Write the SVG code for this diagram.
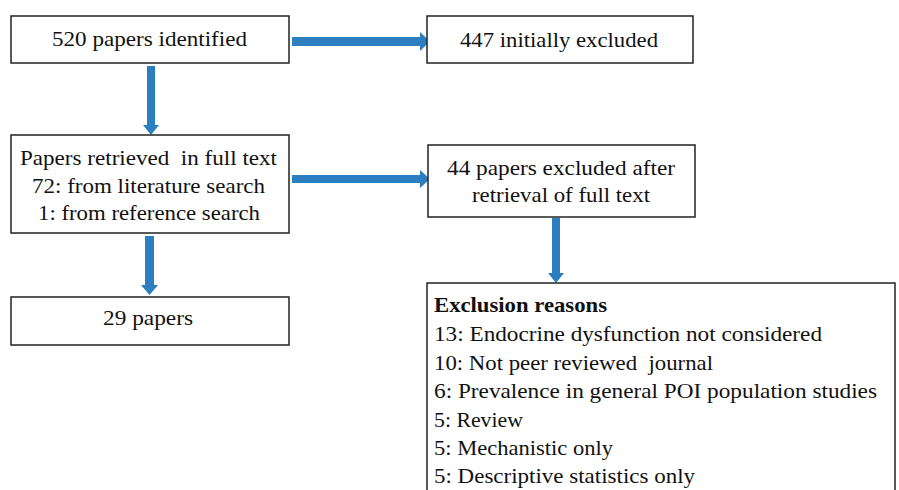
<svg xmlns="http://www.w3.org/2000/svg" width="899" height="490" viewBox="0 0 899 490">
<defs>
<style>
.box{fill:#fff;stroke:#222;stroke-width:1.5}
.t{font-family:"Liberation Serif","DejaVu Serif",serif;font-size:21px;fill:#111;white-space:pre}
.b{font-weight:bold}
.arr{fill:#2b7fc1}
</style>
</defs>
<rect width="899" height="490" fill="#fff"/>
<g id="connectors">
<polygon class="arr" points="292,37 420,37 420,32 430,41.5 420,51 420,46 292,46"/>
<polygon class="arr" points="147,66 155,66 155,125 159,125 151,135 143,125 147,125"/>
<polygon class="arr" points="292,175 420,175 420,170 430,179 420,188 420,183 292,183"/>
<polygon class="arr" points="145,236 154,236 154,285 158,285 149.5,295 141,285 145,285"/>
<polygon class="arr" points="552,218 560,218 560,273 564,273 556,283 548,273 552,273"/>
</g>
<g id="n1"><rect class="box" x="11" y="16" width="278" height="47"/><text class="t" x="52" y="46" textLength="195" lengthAdjust="spacingAndGlyphs">520 papers identified</text></g>
<g id="n2"><rect class="box" x="427" y="16" width="266" height="47"/><text class="t" x="460" y="47" textLength="198" lengthAdjust="spacingAndGlyphs">447 initially excluded</text></g>
<g id="n3"><rect class="box" x="11" y="135" width="278" height="98"/>
<text class="t" x="20" y="165" textLength="257" lengthAdjust="spacingAndGlyphs">Papers retrieved  in full text</text>
<text class="t" x="32" y="193" textLength="233" lengthAdjust="spacingAndGlyphs">72: from literature search</text>
<text class="t" x="38" y="220" textLength="222" lengthAdjust="spacingAndGlyphs">1: from reference search</text></g>
<g id="n4"><rect class="box" x="428" y="145" width="267" height="72"/>
<text class="t" x="447" y="175" textLength="228" lengthAdjust="spacingAndGlyphs">44 papers excluded after</text>
<text class="t" x="472" y="202" textLength="178" lengthAdjust="spacingAndGlyphs">retrieval of full text</text></g>
<g id="n5"><rect class="box" x="11" y="297" width="278" height="48"/><text class="t" x="103" y="325" textLength="90" lengthAdjust="spacingAndGlyphs">29 papers</text></g>
<g id="n6"><rect class="box" x="427" y="283" width="468" height="220"/>
<text class="t b" x="434" y="312" textLength="173" lengthAdjust="spacingAndGlyphs">Exclusion reasons</text>
<text class="t" x="434" y="341" textLength="388" lengthAdjust="spacingAndGlyphs">13: Endocrine dysfunction not considered</text>
<text class="t" x="434" y="370" textLength="279" lengthAdjust="spacingAndGlyphs">10: Not peer reviewed  journal</text>
<text class="t" x="434" y="398" textLength="443" lengthAdjust="spacingAndGlyphs">6: Prevalence in general POI population studies</text>
<text class="t" x="434" y="427" textLength="89" lengthAdjust="spacingAndGlyphs">5: Review</text>
<text class="t" x="434" y="455" textLength="179" lengthAdjust="spacingAndGlyphs">5: Mechanistic only</text>
<text class="t" x="434" y="483" textLength="261" lengthAdjust="spacingAndGlyphs">5: Descriptive statistics only</text></g>
</svg>
